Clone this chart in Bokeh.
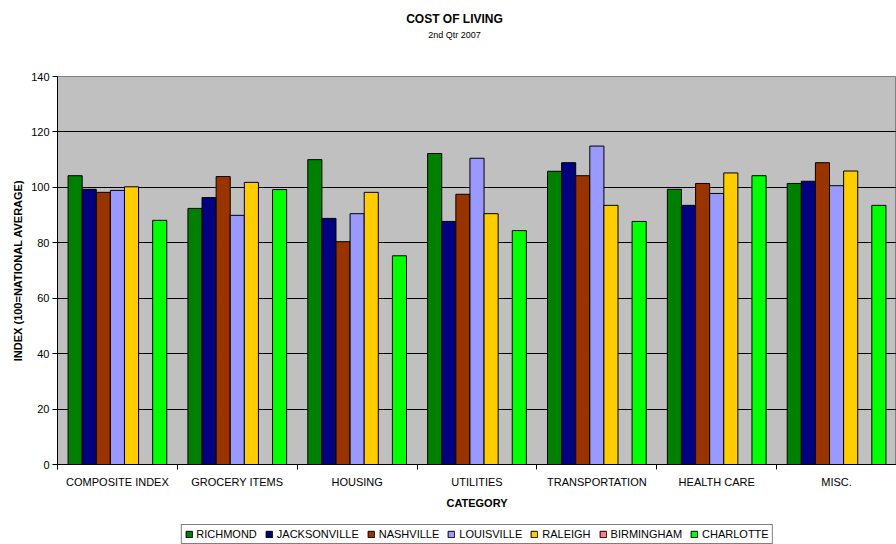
from bokeh.plotting import figure
from bokeh.layouts import column
from bokeh.models import (Range1d, LinearAxis, FixedTicker,
                          Legend, LegendItem, ColumnDataSource)
from bokeh.core.properties import value
from bokeh.transform import dodge
from bokeh.embed import file_html
from bokeh.resources import INLINE

nan = float("nan")

title = "COST OF LIVING"
subtitle = "2nd Qtr 2007"
categories = ["COMPOSITE INDEX", "GROCERY ITEMS", "HOUSING", "UTILITIES",
              "TRANSPORTATION", "HEALTH CARE", "MISC."]
cities = ["RICHMOND", "JACKSONVILLE", "NASHVILLE", "LOUISVILLE", "RALEIGH",
          "BIRMINGHAM", "CHARLOTTE"]
richmond = [104.2, 92.4, 110.0, 112.2, 105.8, 99.3, 101.4]
jacksonville = [99.3, 96.3, 88.8, 87.7, 108.9, 93.5, 102.2]
nashville = [98.2, 103.9, 80.4, 97.5, 104.2, 101.4, 108.9]
louisville = [98.9, 89.9, 90.5, 110.5, 114.9, 97.8, 100.6]
raleigh = [100.2, 101.8, 98.2, 90.5, 93.5, 105.2, 105.9]
birmingham = [nan, nan, nan, nan, nan, nan, nan]
charlotte = [88.1, 99.2, 75.3, 84.4, 87.7, 104.2, 93.5]
y_ticks = [0, 20, 40, 60, 80, 100, 120, 140]
colors = ["#008000", "#000080", "#993300", "#9999FF", "#FFCC00", "#FF8080", "#00FF00"]

series = [richmond, jacksonville, nashville, louisville, raleigh, birmingham, charlotte]
ncat = len(categories)
centers = [k + 0.5 for k in range(ncat)]
data = {"pos": centers}
for name, vals in zip(cities, series):
    data[name] = vals
source = ColumnDataSource(data)

FONT = "Liberation Sans"
W = 896
LEFT = 57

# ---- title strip (x range equals page pixels over the aligned frame) ----
pt = figure(width=W, height=68, x_range=Range1d(LEFT, W), y_range=Range1d(68, 0),
            output_backend="svg", toolbar_location=None, min_border=0,
            min_border_left=LEFT, x_axis_location=None, y_axis_location=None)
pt.outline_line_color = None
pt.grid.grid_line_color = None
pt.text(x=[454], y=[18], text=[title], text_align="center", text_baseline="middle",
        text_font=value(FONT), text_font_size="12px", text_font_style="bold", text_color="black")
pt.text(x=[454], y=[34], text=[subtitle], text_align="center", text_baseline="middle",
        text_font=value(FONT), text_font_size="9px", text_color="black")

# ---- main chart ----
p = figure(width=W, height=450, x_range=Range1d(0, ncat),
           y_range=Range1d(0, 140), output_backend="svg", toolbar_location=None,
           x_axis_location=None, min_border_left=LEFT, min_border_right=0,
           min_border_top=8, min_border_bottom=54)
p.background_fill_color = "#C0C0C0"
p.border_fill_color = "white"
p.outline_line_color = "#808080"
p.xgrid.grid_line_color = None
p.ygrid.grid_line_color = "black"
p.ygrid.ticker = FixedTicker(ticks=y_ticks[1:-1])

yax = p.yaxis[0]
yax.ticker = FixedTicker(ticks=y_ticks)
yax.axis_label = "INDEX (100=NATIONAL AVERAGE)"
yax.axis_label_text_font = FONT
yax.axis_label_text_font_style = "bold"
yax.axis_label_text_font_size = "11px"
yax.axis_label_text_color = "black"
yax.axis_label_standoff = 4
yax.major_label_text_font = FONT
yax.major_label_text_font_size = "11px"
yax.major_label_text_color = "black"
yax.major_label_standoff = 3
yax.major_tick_out = 5
yax.major_tick_in = 0
yax.minor_tick_line_color = None
yax.axis_line_color = "black"

# boundary tick marks between categories
tick_axis = LinearAxis(ticker=FixedTicker(ticks=list(range(ncat + 1))),
                       major_tick_out=5, major_tick_in=0, minor_tick_line_color=None,
                       major_label_overrides={k: "" for k in range(ncat + 1)},
                       major_label_text_font_size="1px",
                       major_label_standoff=0, axis_line_color="black")
p.add_layout(tick_axis, "below")

cat_axis = LinearAxis(ticker=FixedTicker(ticks=centers),
                      major_label_overrides={c: lab for c, lab in zip(centers, categories)},
                      axis_line_color=None, major_tick_line_color=None,
                      minor_tick_line_color=None,
                      major_label_text_font=FONT, major_label_text_font_size="11px",
                      major_label_text_color="black",
                      major_label_standoff=0,
                      axis_label="CATEGORY", axis_label_text_font=FONT,
                      axis_label_text_font_style="bold", axis_label_text_font_size="11px",
                      axis_label_text_color="black",
                      axis_label_standoff=6)
p.add_layout(cat_axis, "below")

n = len(cities)
bw = 1.0 / (n + 1.5)
for i, (name, col) in enumerate(zip(cities, colors)):
    p.vbar(x=dodge("pos", (i - (n - 1) / 2) * bw), top=name, bottom=0,
           width=bw, source=source, fill_color=col, line_color="black", line_width=1)

# ---- legend strip (bars here lie outside its visible range; only the legend shows) ----
pl = figure(width=W, height=26, x_range=Range1d(0, ncat), y_range=Range1d(1000, 1001),
            output_backend="svg", toolbar_location=None, min_border=0,
            min_border_left=LEFT, min_border_top=6,
            x_axis_location=None, y_axis_location=None)
pl.outline_line_color = None
pl.grid.grid_line_color = None
items = []
for name, col in zip(cities, colors):
    r = pl.vbar(x="pos", top=name, bottom=0, width=bw, source=source,
                fill_color=col, line_color="black", line_width=1)
    items.append(LegendItem(label=name, renderers=[r]))
legend = Legend(items=items, orientation="horizontal", location="center",
                label_text_font=FONT, label_text_font_size="11px", label_text_color="black",
                glyph_width=8, glyph_height=8, label_standoff=4, spacing=8,
                padding=3, margin=0, label_height=12,
                border_line_color="black", border_line_width=1)
pl.add_layout(legend, "center")

layout = column(pt, p, pl, spacing=0)
open("out.html", "w").write(file_html(layout, INLINE))
